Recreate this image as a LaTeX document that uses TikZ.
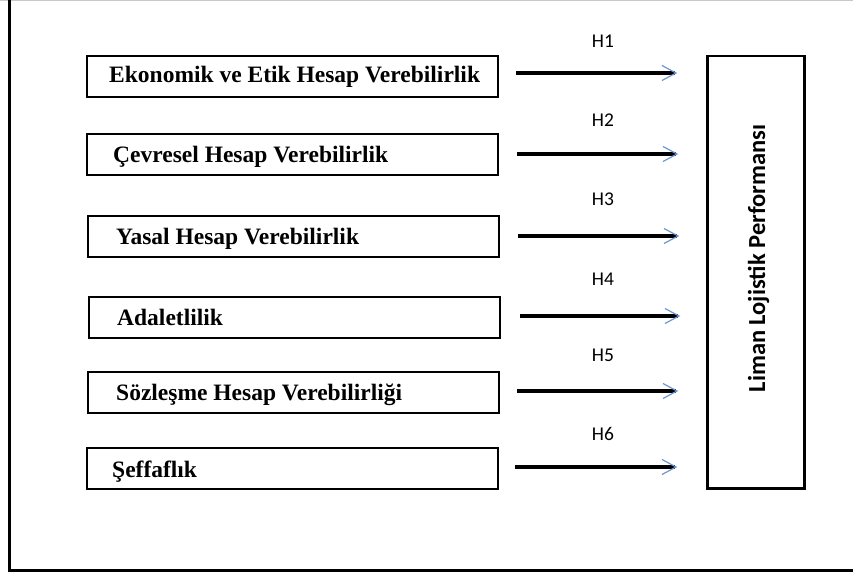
\documentclass[tikz,border=0pt]{standalone}
\usepackage{fontspec}
\setmainfont{Liberation Serif}
\newfontfamily\hfont{Carlito}
\usetikzlibrary{calc}
\definecolor{tipblue}{RGB}{110,150,210}
\definecolor{framegray}{RGB}{200,200,200}
\tikzset{
  srcbox/.style={draw, line width=2pt, rectangle, minimum width=411pt, minimum height=41pt, inner sep=0pt, anchor=north west},
  srctext/.style={anchor=base west, inner sep=0pt, font=\fontsize{23.5}{26}\selectfont\bfseries},
  hlabel/.style={anchor=base, inner sep=0pt, font=\hfont\fontsize{19.5}{22}\selectfont},
  shaft/.style={line width=3.5pt},
  chev/.style={draw=tipblue, line width=1.2pt},
  target/.style={draw, line width=2.5pt, rectangle, minimum width=97pt, minimum height=432pt, inner sep=0pt, anchor=north west},
}
\begin{document}
\begin{tikzpicture}[x=1pt,y=-1pt]
\useasboundingbox (0,0) rectangle (853,575);
% frame
\draw[framegray, line width=1pt] (0,0.5) -- (853,0.5);
\draw[line width=3pt] (9.5,0) -- (9.5,570.5) -- (853,570.5);
% target box
\node[target] (R) at (706,55) {};
\node[rotate=90, anchor=base, inner sep=0pt, font=\hfont\fontsize{24.5}{28}\selectfont\bfseries] (Rt) at (765,258.5) {Liman Lojistik Performansı};
% source boxes
\node[srcbox] (b1) at (86,55) {};
\node[srcbox] (b2) at (86,133) {};
\node[srcbox] (b3) at (87,215) {};
\node[srcbox] (b4) at (88,296) {};
\node[srcbox] (b5) at (87,371) {};
\node[srcbox] (b6) at (86,447) {};
\node[srctext] (t1) at ($(b1.north west)+(23,28)$) {Ekonomik ve Etik Hesap Verebilirlik};
\node[srctext] (t2) at ($(b2.north west)+(27,29)$) {Çevresel Hesap Verebilirlik};
\node[srctext] (t3) at ($(b3.north west)+(29,29)$) {Yasal Hesap Verebilirlik};
\node[srctext] (t4) at ($(b4.north west)+(29,29)$) {Adaletlilik};
\node[srctext] (t5) at ($(b5.north west)+(29,29)$) {Sözleşme Hesap Verebilirliği};
\node[srctext] (t6) at ($(b6.north west)+(26,30)$) {Şeffaflık};
% arrows
\foreach \i/\ya/\xa/\xb in {1/73/516/675, 2/154/517/676, 3/236/518/677, 4/316/520/678, 5/391/517/676, 6/467/515/675}{
  \coordinate (s\i) at (\xa,\ya);
  \coordinate (e\i) at (\xb,\ya);
  \draw[shaft] (s\i) -- (e\i);
  \draw[chev] ($(e\i)+(-13,-7.5)$) -- ($(e\i)+(1,0)$) -- ($(e\i)+(-13,7.5)$);
}
% labels
\node[hlabel] (h1) at (603,48) {H1};
\node[hlabel] (h2) at (603,126) {H2};
\node[hlabel] (h3) at (603,205) {H3};
\node[hlabel] (h4) at (603,285) {H4};
\node[hlabel] (h5) at (603,361) {H5};
\node[hlabel] (h6) at (603,440) {H6};
\end{tikzpicture}
\end{document}
